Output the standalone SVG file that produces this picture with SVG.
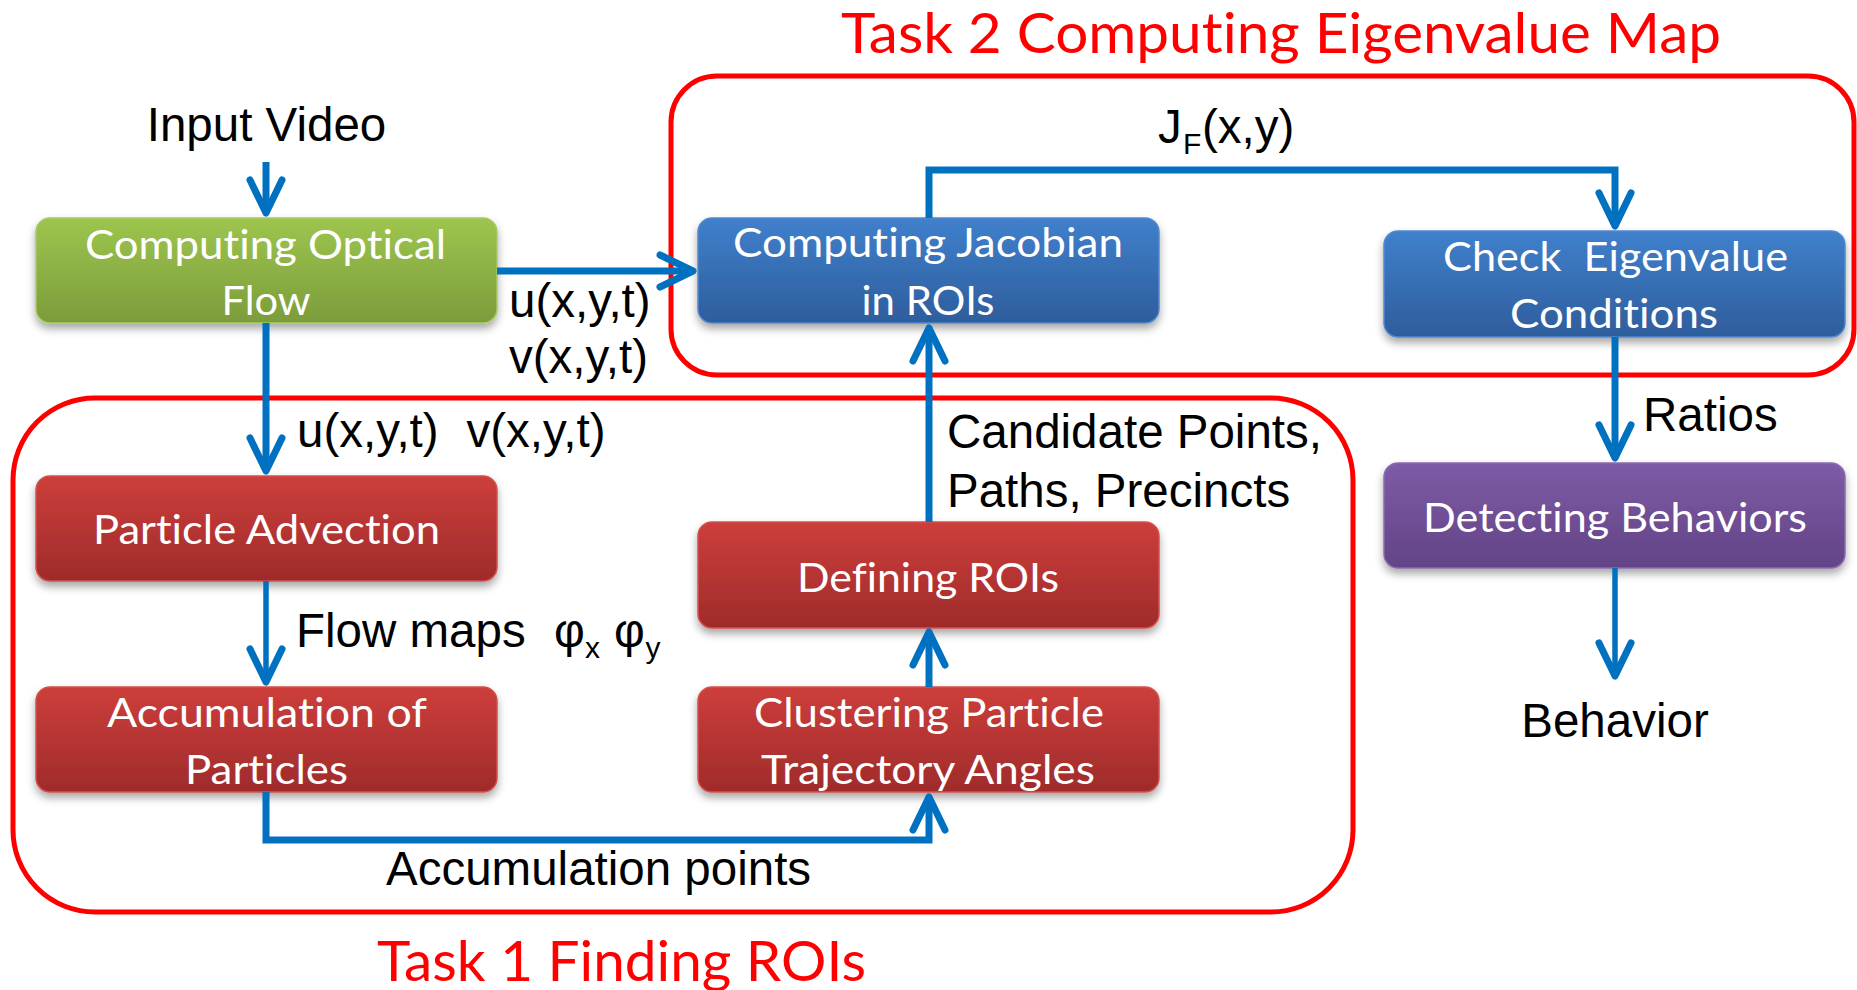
<svg xmlns="http://www.w3.org/2000/svg" width="1857" height="990" viewBox="0 0 1857 990">
<style>
.frame{fill:none;stroke:#FF0000;stroke-width:5}
.lbl{font-family:"Liberation Sans",Arial,sans-serif;font-size:47.5px;fill:#000}
.sub{font-size:30px}
.box{font-family:Lato,"Noto Sans",sans-serif;font-size:40px;fill:#fff;text-anchor:middle;font-variant-ligatures:none}
.title{font-family:Lato,"Noto Sans",sans-serif;font-size:56px;fill:#FF0000;font-variant-ligatures:none}
.con{fill:none;stroke:#0070C0;stroke-width:7;stroke-linejoin:miter}
.thin{stroke-width:5.5}
</style>
<defs>
<linearGradient id="gGreen" x1="0" y1="0" x2="0" y2="1"><stop offset="0" stop-color="#9DC54E"/><stop offset="1" stop-color="#7C9C3B"/></linearGradient>
<linearGradient id="gBlue" x1="0" y1="0" x2="0" y2="1"><stop offset="0" stop-color="#4080CC"/><stop offset="1" stop-color="#2E5D9C"/></linearGradient>
<linearGradient id="gRed" x1="0" y1="0" x2="0" y2="1"><stop offset="0" stop-color="#CD3E3B"/><stop offset="1" stop-color="#9F2B2B"/></linearGradient>
<linearGradient id="gPurple" x1="0" y1="0" x2="0" y2="1"><stop offset="0" stop-color="#7E5BA6"/><stop offset="1" stop-color="#624486"/></linearGradient>
<filter id="sh" x="-10%" y="-20%" width="120%" height="150%"><feDropShadow dx="0" dy="5" stdDeviation="4" flood-color="#000" flood-opacity="0.35"/></filter>
<marker id="arr" markerUnits="userSpaceOnUse" viewBox="-42 -24 50 48" markerWidth="50" markerHeight="48" refX="0" refY="0" orient="auto">
<path d="M-33,-16 L0,0 L-33,16" fill="none" stroke="#0070C0" stroke-width="7" stroke-linecap="round" stroke-linejoin="round"/>
</marker>
</defs>
<rect width="1857" height="990" fill="#fff"/>

<g id="frames">
<rect class="frame" x="671" y="76" width="1183" height="299" rx="46" ry="46"/>
<rect class="frame" x="13" y="398" width="1340" height="514" rx="82" ry="82"/>
<text class="title" x="841" y="53" textLength="880" lengthAdjust="spacingAndGlyphs">Task 2 Computing Eigenvalue Map</text>
<text class="title" x="377" y="981" textLength="489" lengthAdjust="spacingAndGlyphs">Task 1 Finding ROIs</text>
</g>

<g id="n_optical">
<rect x="36" y="218" width="461" height="105" rx="14" fill="url(#gGreen)" stroke="#A6CB62" stroke-width="1.5" filter="url(#sh)"/>
<text class="box" x="265.5" y="259" textLength="361" lengthAdjust="spacingAndGlyphs">Computing Optical</text>
<text class="box" x="266" y="315" textLength="89" lengthAdjust="spacingAndGlyphs">Flow</text>
</g>
<g id="n_jacobian">
<rect x="698" y="218" width="461" height="105" rx="14" fill="url(#gBlue)" stroke="#5089CF" stroke-width="1.5" filter="url(#sh)"/>
<text class="box" x="928" y="257" textLength="390" lengthAdjust="spacingAndGlyphs">Computing Jacobian</text>
<text class="box" x="928" y="315" textLength="133" lengthAdjust="spacingAndGlyphs">in ROIs</text>
</g>
<g id="n_check">
<rect x="1384" y="231" width="461" height="106" rx="14" fill="url(#gBlue)" stroke="#5089CF" stroke-width="1.5" filter="url(#sh)"/>
<text class="box" x="1615.5" y="271" textLength="345" lengthAdjust="spacingAndGlyphs" xml:space="preserve" style="white-space:pre">Check  Eigenvalue</text>
<text class="box" x="1614" y="328" textLength="208" lengthAdjust="spacingAndGlyphs">Conditions</text>
</g>
<g id="n_detecting">
<rect x="1384" y="463" width="461" height="105" rx="14" fill="url(#gPurple)" stroke="#8A6BB0" stroke-width="1.5" filter="url(#sh)"/>
<text class="box" x="1615" y="532" textLength="384" lengthAdjust="spacingAndGlyphs">Detecting Behaviors</text>
</g>
<g id="n_advection">
<rect x="36" y="476" width="461" height="105" rx="14" fill="url(#gRed)" stroke="#D2504D" stroke-width="1.5" filter="url(#sh)"/>
<text class="box" x="266.5" y="544" textLength="347" lengthAdjust="spacingAndGlyphs">Particle Advection</text>
</g>
<g id="n_accumulation">
<rect x="36" y="687" width="461" height="105" rx="14" fill="url(#gRed)" stroke="#D2504D" stroke-width="1.5" filter="url(#sh)"/>
<text class="box" x="267" y="727" textLength="320" lengthAdjust="spacingAndGlyphs">Accumulation of</text>
<text class="box" x="266.5" y="784" textLength="163" lengthAdjust="spacingAndGlyphs">Particles</text>
</g>
<g id="n_defining">
<rect x="698" y="522" width="461" height="106" rx="14" fill="url(#gRed)" stroke="#D2504D" stroke-width="1.5" filter="url(#sh)"/>
<text class="box" x="928" y="592" textLength="262" lengthAdjust="spacingAndGlyphs">Defining ROIs</text>
</g>
<g id="n_clustering">
<rect x="698" y="687" width="461" height="105" rx="14" fill="url(#gRed)" stroke="#D2504D" stroke-width="1.5" filter="url(#sh)"/>
<text class="box" x="929" y="727" textLength="350" lengthAdjust="spacingAndGlyphs">Clustering Particle</text>
<text class="box" x="928" y="784" textLength="334" lengthAdjust="spacingAndGlyphs">Trajectory Angles</text>
</g>
<g id="n_input">
<text class="lbl" x="266.5" y="141" text-anchor="middle">Input Video</text>
</g>
<g id="n_behavior">
<text class="lbl" x="1615" y="737" text-anchor="middle">Behavior</text>
</g>

<g id="connectors">
<path class="con" d="M266,162 L266,213" marker-end="url(#arr)"/>
<path class="con" d="M497,271 L693,271" marker-end="url(#arr)"/>
<path class="con" d="M266,323 L266,471" marker-end="url(#arr)"/>
<path class="con thin" d="M266,581 L266,682" marker-end="url(#arr)"/>
<path class="con" d="M266,792 L266,840 L929,840 L929,797" marker-end="url(#arr)"/>
<path class="con" d="M929,687 L929,632" marker-end="url(#arr)"/>
<path class="con" d="M929,522 L929,328" marker-end="url(#arr)"/>
<path class="con" d="M929,218 L929,170 L1615,170 L1615,226" marker-end="url(#arr)"/>
<path class="con" d="M1615,337 L1615,458" marker-end="url(#arr)"/>
<path class="con thin" d="M1615,568 L1615,676" marker-end="url(#arr)"/>
</g>

<g id="labels">
<text class="lbl" x="509" y="317">u(x,y,t)</text>
<text class="lbl" x="509" y="373">v(x,y,t)</text>
<text class="lbl" x="297" y="447">u(x,y,t)<tspan x="466.5">v(x,y,t)</tspan></text>
<text class="lbl" x="296" y="647">Flow maps<tspan x="554">φ</tspan><tspan class="sub" x="585" y="658">x</tspan><tspan x="614" y="647">φ</tspan><tspan class="sub" x="645.5" y="658">y</tspan></text>
<text class="lbl" x="1158" y="143">J<tspan class="sub" x="1183" y="154">F</tspan><tspan x="1202" y="143">(x,y)</tspan></text>
<text class="lbl" x="947" y="448">Candidate Points,</text>
<text class="lbl" x="947" y="507">Paths, Precincts</text>
<text class="lbl" x="1643" y="431">Ratios</text>
<text class="lbl" x="386" y="885">Accumulation points</text>
</g>
</svg>
